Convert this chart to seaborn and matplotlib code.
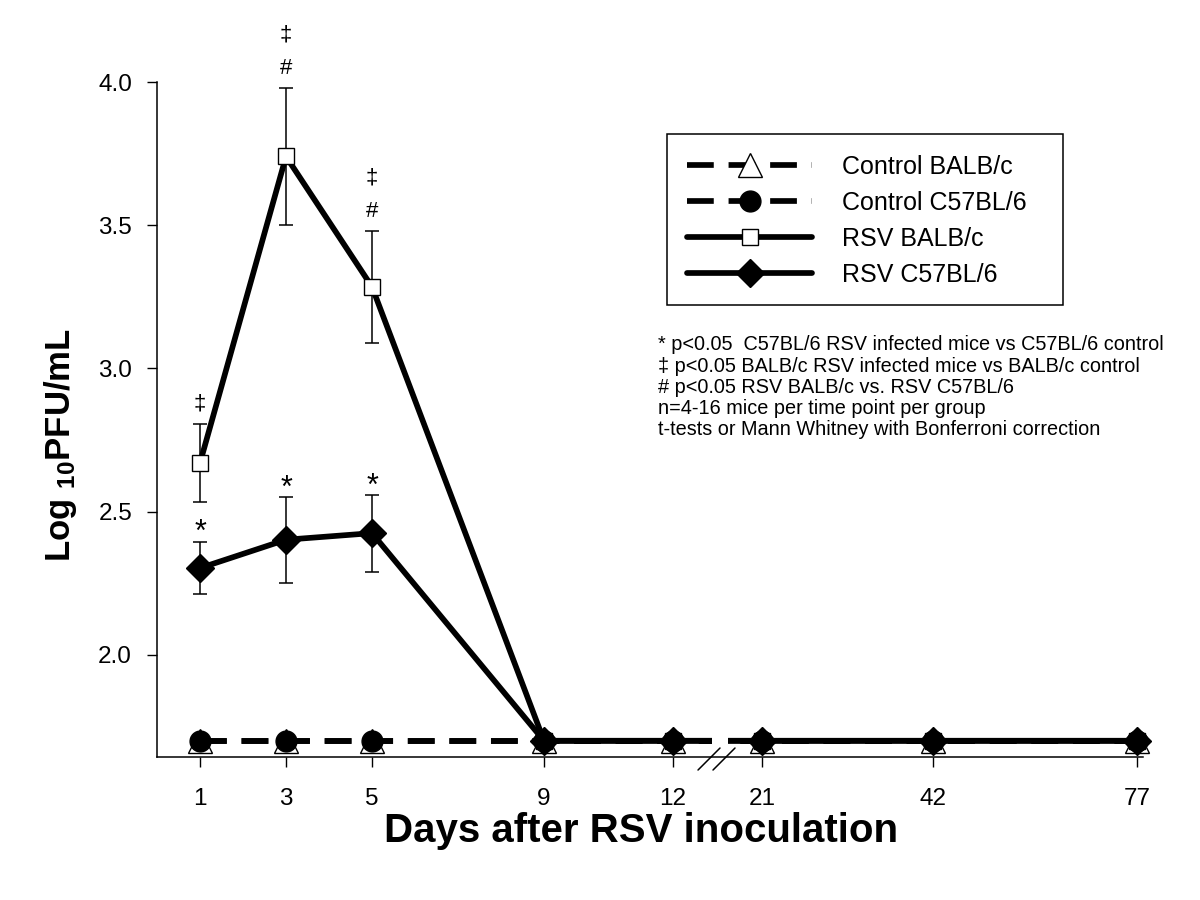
import numpy as np
import pandas as pd
import matplotlib
matplotlib.use("Agg")
import matplotlib.pyplot as plt
import seaborn as sns
from matplotlib.lines import Line2D
from matplotlib.patches import Rectangle

# ---------------- data ----------------
days = [1, 3, 5, 9, 12, 21, 42, 77]
day_labels = ["1", "3", "5", "9", "12", "21", "42", "77"]

control_balbc = [1.70, 1.70, 1.70, 1.70, 1.70, 1.70, 1.70, 1.70]
control_c57 = [1.70, 1.70, 1.70, 1.70, 1.70, 1.70, 1.70, 1.70]
rsv_balbc = [2.67, 3.74, 3.285, 1.70, 1.70, 1.70, 1.70, 1.70]
rsv_balbc_err = [0.137, 0.24, 0.195, 0.0, 0.0, 0.0, 0.0, 0.0]
rsv_c57 = [2.303, 2.402, 2.425, 1.70, 1.70, 1.70, 1.70, 1.70]
rsv_c57_err = [0.092, 0.15, 0.134, 0.0, 0.0, 0.0, 0.0, 0.0]

balbc_marks = ["‡", "‡\n#", "‡\n#", "", "", "", "", ""]
c57_marks = ["*", "*", "*", "", "", "", "", ""]

series_labels = ["Control BALB/c", "Control C57BL/6", "RSV BALB/c", "RSV C57BL/6"]
y_ticks = [2.0, 2.5, 3.0, 3.5, 4.0]
y_tick_labels = ["2.0", "2.5", "3.0", "3.5", "4.0"]

footnotes = [
    "* p<0.05  C57BL/6 RSV infected mice vs C57BL/6 control",
    "\u2021 p<0.05 BALB/c RSV infected mice vs BALB/c control",
    "# p<0.05 RSV BALB/c vs. RSV C57BL/6",
    "n=4-16 mice per time point per group",
    "t-tests or Mann Whitney with Bonferroni correction",
]
x_label = "Days after RSV inoculation"
y_label = r"$\mathbf{Log\ {}_{10}PFU/mL}$"

# ---------------- style ----------------
sns.set_theme(style="ticks")
plt.rcParams["font.family"] = ["Liberation Sans", "DejaVu Sans"]
plt.rcParams["mathtext.fontset"] = "custom"
plt.rcParams["mathtext.rm"] = "Liberation Sans"
plt.rcParams["mathtext.bf"] = "Liberation Sans:bold"
plt.rcParams["mathtext.it"] = "Liberation Sans:italic"
for key in ["text.color", "axes.labelcolor", "xtick.color", "ytick.color", "axes.edgecolor"]:
    plt.rcParams[key] = "black"

LW = 4.1
DASH = (0, (4.7, 2.6))
styles = [
    dict(ls=DASH, marker="^", ms=17, mfc="white", z=2.0),
    dict(ls=DASH, marker="o", ms=15, mfc="black", z=2.1),
    dict(ls="-", marker="s", ms=11, mfc="white", z=3.0),
    dict(ls="-", marker="D", ms=14, mfc="black", z=4.0),
]
series_values = [control_balbc, control_c57, rsv_balbc, rsv_c57]

fig = plt.figure(figsize=(12, 9), dpi=100)
ax = fig.add_axes([157 / 1200, 1 - 757 / 900, 986 / 1200, 675 / 900])

# broken / piecewise x scale (axis layout)
scale_days = [0, 12, 21, 42, 78]
scale_pos = [0, 12, 14.07, 18.05, 22.93]


def fwd(d):
    return np.interp(d, scale_days, scale_pos)


def inv(p):
    return np.interp(p, scale_pos, scale_days)


ax.set_xscale("function", functions=(fwd, inv))

for vals, st in zip(series_values, styles):
    sns.lineplot(
        x=days, y=vals, ax=ax, color="black", linewidth=LW,
        linestyle=st["ls"], marker=st["marker"], markersize=st["ms"],
        markerfacecolor=st["mfc"], markeredgecolor="black",
        markeredgewidth=1.0, zorder=st["z"], errorbar=None, legend=False,
        clip_on=False,
    )

# error bars
for vals, errs, z in [(rsv_balbc, rsv_balbc_err, 2.9), (rsv_c57, rsv_c57_err, 3.9)]:
    d = np.array(days, dtype=float)
    v = np.array(vals)
    e = np.array(errs)
    m = e > 0
    ax.errorbar(d[m], v[m], yerr=e[m], fmt="none", ecolor="black",
                elinewidth=1.1, capsize=5, capthick=1.1, zorder=z)

# significance marks
for d, v, e, mk in zip(days, rsv_balbc, rsv_balbc_err, balbc_marks):
    if not mk:
        continue
    syms = mk.split("\n")[::-1]
    for k, s in enumerate(syms):
        ax.annotate(s, (d, v + e), xytext=(0, 14 + k * 24), textcoords="offset points",
                    ha="center", va="center", fontsize=16, annotation_clip=False)
for d, v, e, mk in zip(days, rsv_c57, rsv_c57_err, c57_marks):
    if not mk:
        continue
    ax.annotate(mk, (d, v + e), xytext=(0, 6), textcoords="offset points",
                ha="center", va="center", fontsize=22, annotation_clip=False)

# axes cosmetics
ax.set_xlim(0, 78)
ax.set_ylim(1.6434, 4.0)
ax.set_xticks(days)
ax.set_xticklabels(day_labels)
ax.set_yticks(y_ticks)
ax.set_yticklabels(y_tick_labels)
ax.xaxis.set_minor_locator(matplotlib.ticker.NullLocator())
ax.tick_params(axis="both", direction="out", length=7, width=1.0, colors="black",
               labelsize=17.5)
ax.tick_params(axis="x", pad=15)
ax.tick_params(axis="y", pad=11)
for sp in ["top", "right"]:
    ax.spines[sp].set_visible(False)
for sp in ["left", "bottom"]:
    ax.spines[sp].set_linewidth(1.1)
    ax.spines[sp].set_color("black")
ax.set_facecolor("white")
ax.grid(False)

ax.set_xlabel(x_label, fontsize=29, fontweight="bold")
ax.xaxis.set_label_coords(0.491, -0.081)
ax.set_ylabel(y_label, fontsize=25)
ax.yaxis.set_label_coords(-0.079, 0.462)

# axis break: white gap in the data lines plus two slashes
ax.add_patch(Rectangle((0.5629, 0.006), 0.0162, 0.06, transform=ax.transAxes,
                       facecolor="white", edgecolor="none", zorder=8))
for x0, x1 in [(0.5487, 0.5710), (0.5639, 0.5862)]:
    ax.add_line(Line2D([x0, x1], [-0.0193, 0.0133], transform=ax.transAxes,
                       color="black", lw=1.1, clip_on=False, zorder=9))

# legend
handles = [
    Line2D([], [], color="black", lw=LW, linestyle=st["ls"], marker=st["marker"],
           markersize=st["ms"], markerfacecolor=st["mfc"], markeredgecolor="black",
           markeredgewidth=1.0)
    for st in styles
]
fig.legend(handles, series_labels, loc="upper left",
           bbox_to_anchor=(687 / 1200, 1 - 155 / 900), frameon=False,
           fontsize=18, handlelength=5.0, handletextpad=1.2, labelspacing=0.48,
           borderpad=0, borderaxespad=0, numpoints=1)
fig.add_artist(Rectangle((667 / 1200, 1 - 305 / 900), 396 / 1200, 171 / 900,
                         transform=fig.transFigure, facecolor="none",
                         edgecolor="black", lw=1.1))

# footnotes
for i, line in enumerate(footnotes):
    fig.text(658 / 1200, 1 - (345 + i * 21.2) / 900, line, fontsize=14.3,
             ha="left", va="center")

fig.savefig("out.png", dpi=100, facecolor="white")
